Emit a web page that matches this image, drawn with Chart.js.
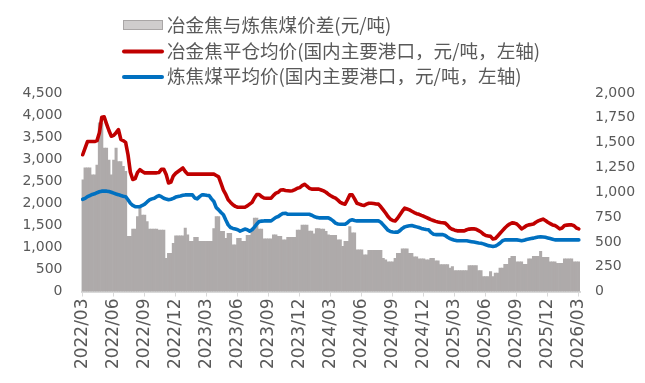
<!DOCTYPE html>
<html>
<head>
<meta charset="utf-8">
<script src="https://cdn.jsdelivr.net/npm/chart.js@4.4.1/dist/chart.umd.min.js"></script>
<style>
  html, body { margin: 0; padding: 0; background: #ffffff; }
  #wrap { width: 645px; height: 383px; }
</style>
</head>
<body>
<div id="wrap"><canvas id="c" width="645" height="383"></canvas></div>
<script>
// ---- tick labels (one every 13 weeks) ----
const tickLabels = ['2022/03','2022/06','2022/09','2022/12','2023/03','2023/06','2023/09','2023/12',
  '2024/03','2024/06','2024/09','2024/12','2025/03','2025/06','2025/09','2025/12','2026/03'];
const weeksPerTick = 13;

// ---- series names ----
const seriesNames = [
  '冶金焦与炼焦煤价差(元/吨)',
  '冶金焦平仓均价(国内主要港口，元/吨，左轴)',
  '炼焦煤平均价(国内主要港口，元/吨，左轴)'
];

// ---- weekly values ----
const cokePrice = [
  3100,3250,3400,3400,3400,3400,3420,3600,3950,3960,
  3800,3650,3520,3540,3600,3670,3450,3420,3380,3100,
  2700,2540,2560,2700,2760,2720,2690,2690,2690,2690,
  2690,2690,2700,2770,2770,2650,2460,2480,2620,2680,
  2720,2760,2800,2720,2660,2660,2660,2660,2660,2660,
  2660,2660,2660,2660,2660,2660,2630,2600,2450,2300,
  2200,2080,2020,1965,1930,1910,1910,1910,1910,1940,
  1980,2020,2120,2200,2200,2150,2120,2115,2115,2115,
  2180,2230,2250,2300,2305,2290,2285,2280,2285,2310,
  2340,2355,2400,2430,2390,2340,2320,2320,2320,2320,
  2300,2280,2250,2205,2170,2140,2115,2070,2020,1995,
  1980,2080,2190,2190,2100,2000,1980,1960,1950,1980,
  2000,2000,1995,1985,1980,1920,1850,1780,1700,1640,
  1610,1600,1660,1740,1820,1890,1870,1850,1820,1790,
  1765,1750,1725,1705,1680,1655,1630,1610,1590,1575,
  1565,1560,1550,1500,1440,1410,1390,1375,1375,1375,
  1375,1400,1415,1420,1420,1410,1380,1350,1300,1270,
  1260,1250,1190,1200,1260,1320,1380,1440,1490,1530,
  1555,1550,1530,1480,1420,1450,1490,1510,1520,1530,
  1570,1600,1620,1640,1610,1570,1540,1510,1495,1460,
  1420,1440,1495,1505,1510,1510,1490,1440,1420
];
const coalPrice = [
  2090,2110,2150,2175,2200,2215,2240,2260,2275,2280,
  2275,2265,2250,2230,2210,2195,2175,2160,2150,2080,
  2000,1950,1925,1920,1925,1950,1980,2030,2075,2100,
  2115,2150,2175,2150,2115,2095,2080,2090,2110,2140,
  2155,2165,2180,2190,2190,2190,2190,2120,2100,2150,
  2190,2190,2180,2175,2100,2040,1900,1850,1790,1740,
  1620,1510,1450,1430,1415,1400,1370,1390,1415,1400,
  1370,1400,1460,1530,1585,1595,1600,1600,1600,1600,
  1640,1680,1700,1740,1770,1775,1750,1750,1750,1750,
  1750,1750,1750,1750,1750,1750,1730,1700,1680,1670,
  1670,1670,1670,1670,1640,1600,1550,1530,1525,1525,
  1525,1560,1610,1625,1610,1600,1600,1600,1600,1600,
  1600,1600,1600,1600,1600,1570,1510,1450,1390,1360,
  1350,1345,1345,1380,1430,1465,1480,1490,1495,1480,
  1465,1450,1430,1415,1405,1400,1340,1300,1290,1290,
  1290,1290,1270,1230,1200,1180,1160,1150,1150,1150,
  1150,1150,1140,1130,1120,1110,1100,1095,1080,1060,
  1040,1030,1020,1030,1060,1100,1150,1170,1170,1170,
  1170,1170,1170,1160,1150,1160,1180,1190,1200,1210,
  1225,1235,1240,1235,1228,1215,1200,1185,1170,1170,
  1170,1170,1170,1170,1170,1170,1170,1170,1170
];
const priceSpread = [
  1125,1245,1245,1245,1175,1175,1275,1700,1700,1445,
  1445,1325,1175,1325,1445,1310,1310,1260,1210,555,
  555,630,630,755,840,770,770,705,630,630,
  630,630,620,620,620,335,385,385,485,560,
  560,560,560,640,570,505,505,545,545,505,
  505,505,505,505,505,635,755,755,605,605,
  535,585,585,470,470,535,535,505,505,565,
  565,605,740,740,630,630,530,530,530,530,
  570,570,555,555,520,520,545,545,545,545,
  620,620,670,670,670,610,610,580,635,635,
  630,630,605,570,565,565,565,520,520,455,
  505,505,655,590,590,420,420,420,370,370,
  415,415,415,415,415,415,335,320,300,300,
  300,335,385,385,430,430,430,385,385,350,
  350,330,330,330,320,320,335,335,310,310,
  270,270,270,270,235,250,210,210,210,210,
  210,210,260,260,260,260,210,210,150,150,
  150,200,150,185,185,235,235,275,275,335,
  355,355,300,300,300,275,275,330,330,355,
  355,355,405,345,345,345,300,300,300,285,
  285,285,330,330,330,330,300,300,300
];

// categories: one per week, labelled at quarter starts
const categories = priceSpread.map((_, i) => (i % weeksPerTick === 0 ? tickLabels[i / weeksPerTick] : ''));

const GREY_TXT = '#595959';
const tickFontY = { family: 'DejaVu Sans', size: 14 };
const tickFontX = { family: 'DejaVu Sans', size: 17 };

const legendPlugin = {
  id: 'stackedLegend',
  afterDraw(chart) {
    const ctx = chart.ctx;
    const rowsY = [25, 50.5, 76];
    const swX = 123, swW = 40, txtX = 167;
    ctx.save();
    ctx.font = '18.6px "Noto Sans CJK SC"';
    ctx.textBaseline = 'middle';
    ctx.textAlign = 'left';
    chart.data.datasets.forEach((ds, i) => {
      const y = rowsY[i];
      if (ds.type === 'bar') {
        ctx.fillStyle = '#cfcdcd';
        ctx.fillRect(swX, y - 5, swW, 10);
        ctx.strokeStyle = '#a9a6a6';
        ctx.lineWidth = 1;
        ctx.strokeRect(swX + 0.5, y - 4.5, swW - 1, 9);
      } else {
        ctx.strokeStyle = ds.borderColor;
        ctx.lineWidth = 4;
        ctx.lineCap = 'round';
        ctx.beginPath();
        ctx.moveTo(swX + 1, y + 1);
        ctx.lineTo(swX + swW - 1, y + 1);
        ctx.stroke();
      }
      ctx.fillStyle = GREY_TXT;
      ctx.fillText(ds.label, txtX, y);
    });
    ctx.restore();
  }
};

new Chart(document.getElementById('c'), {
  type: 'bar',
  data: {
    labels: categories,
    datasets: [
      {
        type: 'bar',
        label: seriesNames[0],
        data: priceSpread,
        yAxisID: 'y1',
        backgroundColor: '#aeaaaa',
        borderWidth: 0,
        barPercentage: 1.0,
        categoryPercentage: 1.0,
        order: 3
      },
      {
        type: 'line',
        label: seriesNames[1],
        data: cokePrice,
        yAxisID: 'y',
        borderColor: '#c00000',
        borderWidth: 3.6,
        pointRadius: 0,
        tension: 0,
        borderJoinStyle: 'round',
        borderCapStyle: 'round',
        order: 1
      },
      {
        type: 'line',
        label: seriesNames[2],
        data: coalPrice,
        yAxisID: 'y',
        borderColor: '#0070c0',
        borderWidth: 3.6,
        pointRadius: 0,
        tension: 0,
        borderJoinStyle: 'round',
        borderCapStyle: 'round',
        order: 2
      }
    ]
  },
  options: {
    responsive: false,
    animation: false,
    devicePixelRatio: 1,
    layout: { padding: { top: 93, left: 0, right: 0, bottom: 0 } },
    plugins: { legend: { display: false }, tooltip: { enabled: false } },
    scales: {
      x: {
        offset: true,
        grid: { display: true, drawOnChartArea: false, drawTicks: true, tickLength: 5, offset: false, color: '#d9d9d9', lineWidth: 1 },
        border: { display: true, color: '#d9d9d9', width: 2 },
        ticks: {
          autoSkip: false, maxRotation: 90, minRotation: 90, padding: 2,
          color: GREY_TXT, font: tickFontX,
          callback: function (v) { return this.getLabelForValue(v); }
        },
        afterBuildTicks(scale) {
          scale.ticks = scale.ticks.filter(t => t.value % weeksPerTick === 0);
        },
        afterFit(scale) { scale.height = 91.5; }
      },
      y: {
        position: 'left',
        min: 0, max: 4500,
        grid: { display: false, drawTicks: false },
        border: { display: false },
        ticks: {
          stepSize: 500, padding: 19, color: GREY_TXT, font: tickFontY,
          callback: v => v.toLocaleString('en-US')
        },
        afterFit(scale) { scale.width = 81.5; }
      },
      y1: {
        position: 'right',
        min: 0, max: 2000,
        grid: { display: false, drawTicks: false },
        border: { display: false },
        ticks: {
          stepSize: 250, padding: 15, color: GREY_TXT, font: tickFontY,
          callback: v => v.toLocaleString('en-US')
        },
        afterFit(scale) { scale.width = 65; }
      }
    }
  },
  plugins: [legendPlugin]
});
</script>
</body>
</html>
